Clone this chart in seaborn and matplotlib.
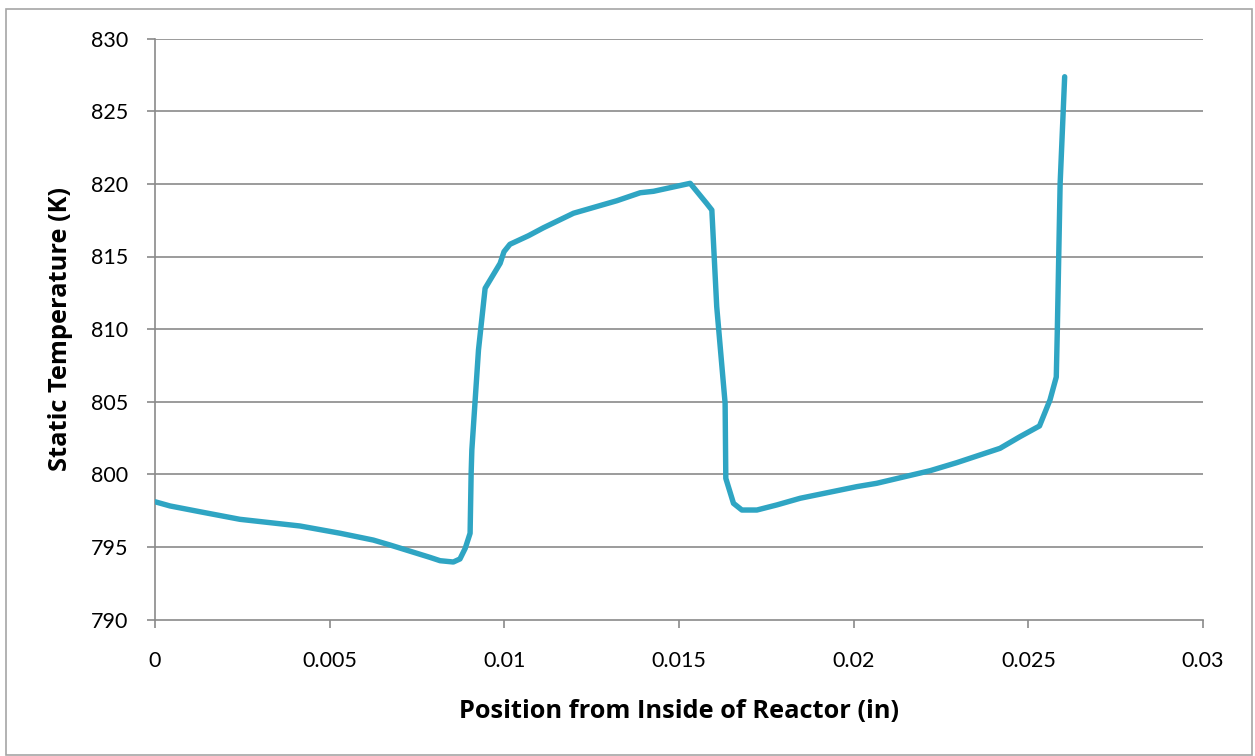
import matplotlib
matplotlib.use("Agg")
import matplotlib.pyplot as plt
import seaborn as sns
import pandas as pd
from matplotlib.patches import Rectangle

# Static temperature profile through the reactor wall
position_in = [0, 0.00043, 0.00129, 0.00243, 0.00415, 0.0053, 0.00625, 0.00673,
               0.00787, 0.00816, 0.00854, 0.00873, 0.00888, 0.00902, 0.00905,
               0.00907, 0.00926, 0.00945, 0.00988, 0.00999, 0.01016, 0.01069,
               0.01112, 0.01198, 0.01322, 0.01389, 0.01427, 0.01532, 0.01579,
               0.01594, 0.01608, 0.01632, 0.01634, 0.01656, 0.0168, 0.01723,
               0.0178, 0.01847, 0.02009, 0.02066, 0.02219, 0.02295, 0.02419,
               0.02476, 0.02532, 0.02562, 0.0258, 0.02583, 0.02591, 0.02604]
static_temp_k = [798.11, 797.82, 797.42, 796.9, 796.44, 795.94, 795.47, 795.13,
                 794.28, 794.05, 793.96, 794.17, 794.9, 795.94, 800.07,
                 801.67, 808.56, 812.81, 814.53, 815.33, 815.84, 816.43,
                 816.98, 817.98, 818.84, 819.39, 819.49, 820.04, 818.66,
                 818.2, 811.54, 804.89, 799.72, 798.0, 797.54, 797.54,
                 797.89, 798.35, 799.15, 799.38, 800.25, 800.8, 801.79,
                 802.59, 803.33, 805.12, 806.7, 809.94, 820.0, 827.38]

x_ticks = [0, 0.005, 0.01, 0.015, 0.02, 0.025, 0.03]
x_tick_labels = ["0", "0.005", "0.01", "0.015", "0.02", "0.025", "0.03"]
y_ticks = [790, 795, 800, 805, 810, 815, 820, 825, 830]

df = pd.DataFrame({"pos": position_in, "temp": static_temp_k})

sns.set_theme(style="white")
plt.rcParams["font.family"] = ["Lato", "DejaVu Sans"]
plt.rcParams["text.color"] = "black"
plt.rcParams["axes.labelcolor"] = "black"

grid_gray = "#8a8a8a"
fig = plt.figure(figsize=(12.55, 7.56), dpi=100)
ax = fig.add_axes([155 / 1255, 1 - 619.5 / 756, (1203 - 155) / 1255, (619.5 - 38.7) / 756])

sns.lineplot(data=df, x="pos", y="temp", ax=ax, sort=False, estimator=None,
             color="#2fa5c3", linewidth=3.9, solid_capstyle="round",
             solid_joinstyle="round", zorder=3)

ax.set_xlim(0, 0.03)
ax.set_ylim(790, 830)
ax.set_xticks(x_ticks)
ax.set_xticklabels(x_tick_labels)
ax.set_yticks(y_ticks)
for yv in y_ticks[1:]:
    ax.axhline(yv, color=grid_gray, linewidth=1.2, zorder=1)

for side in ("top", "right"):
    ax.spines[side].set_visible(False)
for side in ("left", "bottom"):
    ax.spines[side].set_color(grid_gray)
    ax.spines[side].set_linewidth(1.2)

ax.tick_params(axis="both", which="major", direction="out", length=6,
               width=1.2, color=grid_gray, labelsize=15.5, labelcolor="black")
ax.tick_params(axis="y", pad=13, left=True)
ax.tick_params(axis="x", pad=17, bottom=True)

label_font = dict(family=["Open Sans", "DejaVu Sans"], fontsize=18.3,
                  fontweight="bold", color="black")
ax.set_xlabel("Position from Inside of Reactor (in)", labelpad=20, **label_font)
ax.set_ylabel("Static Temperature (K)", labelpad=13, **label_font)

# outer chart frame
fig.patches.append(Rectangle((6 / 1255, 1 / 756), 1245.5 / 1255, 746 / 756,
                             transform=fig.transFigure, fill=False,
                             edgecolor="#a6a6a6", linewidth=1.2))

fig.savefig("out.png", dpi=100, facecolor="white")
